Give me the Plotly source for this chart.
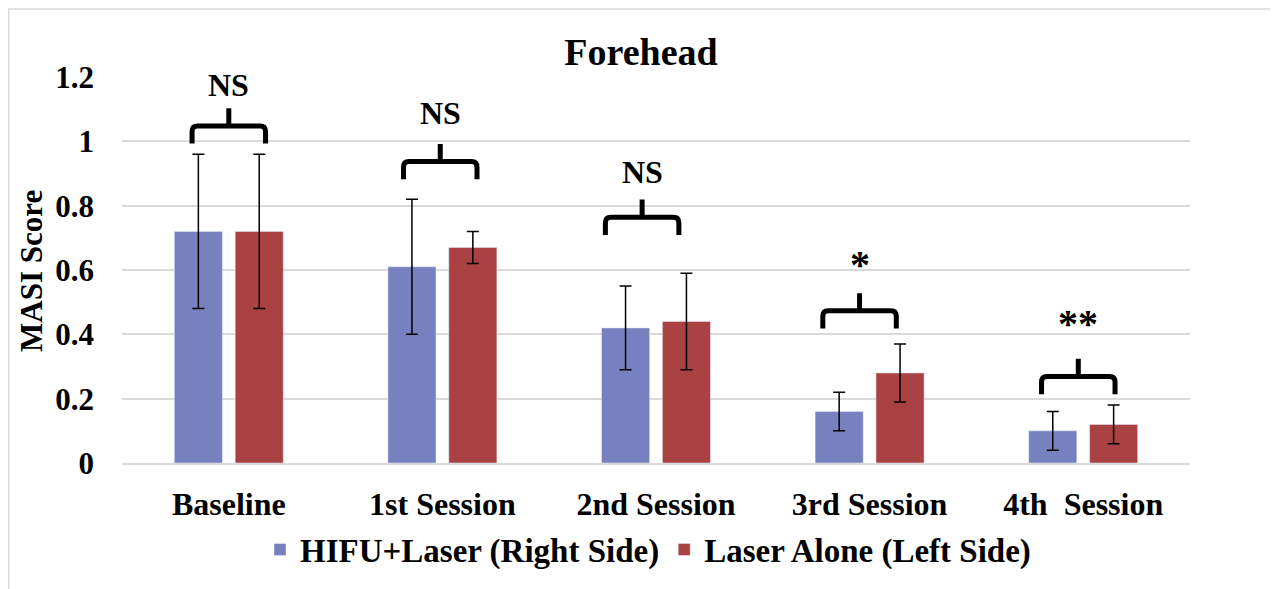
import plotly.graph_objects as go

categories = ["Baseline", "1st Session", "2nd Session", "3rd Session", "4th\u00a0\u00a0Session"]
hifu_laser = [0.72, 0.61, 0.42, 0.16, 0.10]
hifu_laser_err = [0.24, 0.21, 0.13, 0.06, 0.06]
laser_alone = [0.72, 0.67, 0.44, 0.28, 0.12]
laser_alone_err = [0.24, 0.05, 0.15, 0.09, 0.06]
sig_labels = ["NS", "NS", "NS", "*", "**"]
sig_label_y = [1.175, 1.087, 0.906, 0.618, 0.434]
bracket_levels = [1.048, 0.937, 0.764, 0.473, 0.269]
bracket_shift = [0.0, -0.01, -0.065, -0.047, -0.023]
y_ticks = [0, 0.2, 0.4, 0.6, 0.8, 1, 1.2]
y_tick_text = ["0", "0.2", "0.4", "0.6", "0.8", "1", "1.2"]

FONT = "Liberation Serif"
BLUE = "#7781C0"
RED = "#AA4143"
GRID = "#D9D9D9"

# page has an 8px body margin; figure is sized so it fills the 1278x589 window
W, H = 1270, 581
L, R, T, B = 114, 88, 69, 124
PW, PH = W - L - R, H - T - B

x_idx = list(range(len(categories)))

fig = go.Figure()
fig.add_trace(go.Bar(
    x=x_idx, y=hifu_laser, name="HIFU+Laser (Right Side)", marker_color=BLUE,
    error_y=dict(type="data", array=hifu_laser_err, color="black", thickness=1.5, width=6),
))
fig.add_trace(go.Bar(
    x=x_idx, y=laser_alone, name="Laser Alone (Left Side)", marker_color=RED,
    error_y=dict(type="data", array=laser_alone_err, color="black", thickness=1.5, width=6),
))

# significance brackets
hw, rx, ry, drop, rise = 0.172, 0.025, 0.018, 0.055, 0.055
for i, (lvl, sh, lab, ly) in enumerate(zip(bracket_levels, bracket_shift, sig_labels, sig_label_y)):
    xc = i + sh
    xl, xr = xc - hw, xc + hw
    yb = lvl - drop
    path = (f"M {xl},{yb} L {xl},{lvl-ry} Q {xl},{lvl} {xl+rx},{lvl} "
            f"L {xr-rx},{lvl} Q {xr},{lvl} {xr},{lvl-ry} L {xr},{yb} "
            f"M {xc},{lvl} L {xc},{lvl+rise}")
    fig.add_shape(type="path", path=path, xref="x", yref="y",
                  line=dict(color="black", width=5))
    size = 40 if "*" in lab else 32
    fig.add_annotation(x=xc, y=ly, text=lab, showarrow=False,
                       xref="x", yref="y", xanchor="center", yanchor="middle",
                       font=dict(family=FONT, size=size, color="black", weight="bold"))

# y-axis title
fig.add_annotation(x=(32 - 8 - L) / PW, y=(465 - 272) / 388, xref="paper", yref="paper",
                   xanchor="center", yanchor="middle",
                   text="MASI Score", textangle=-90, showarrow=False,
                   font=dict(family=FONT, size=31, color="black", weight="bold"))

# chart border
fig.add_shape(type="rect", xref="paper", yref="paper",
              x0=(0.75 - L) / PW, x1=(1266 - L) / PW,
              y0=-(B + 20) / PH, y1=(T + PH - 0.75) / PH,
              line=dict(color=GRID, width=1.5), layer="below")

fig.update_layout(
    width=W, height=H,
    margin=dict(l=L, r=R, t=T, b=B),
    paper_bgcolor="white", plot_bgcolor="white",
    barmode="group", bargap=0.43, bargroupgap=0.21,
    title=dict(text="Forehead", x=(641 - 8) / W, xref="container", xanchor="center",
               y=1 - (52 - 8) / H, yref="container", yanchor="middle",
               font=dict(family=FONT, size=38, color="black", weight="bold")),
    xaxis=dict(type="linear", range=[-0.5, 4.5], tickvals=x_idx, ticktext=categories,
               showgrid=False, showline=True, linecolor=GRID, linewidth=1.5,
               zeroline=False, ticks="", ticklabelstandoff=12,
               tickfont=dict(family=FONT, size=32, color="black", weight="bold")),
    yaxis=dict(range=[0, 1.2], tickvals=y_ticks, ticktext=y_tick_text,
               showgrid=True, gridcolor=GRID, gridwidth=1.5, zeroline=False,
               showline=False, ticks="", ticklabelstandoff=27,
               tickfont=dict(family=FONT, size=31, color="black", weight="bold")),
    legend=dict(orientation="h", x=(648 - 122) / PW, xanchor="center",
                y=(465 - 552) / PH, yanchor="middle",
                font=dict(family=FONT, size=33, color="black", weight="bold"),
                itemwidth=30, tracegroupgap=0),
    showlegend=True,
)

fig.write_html("out.html")
